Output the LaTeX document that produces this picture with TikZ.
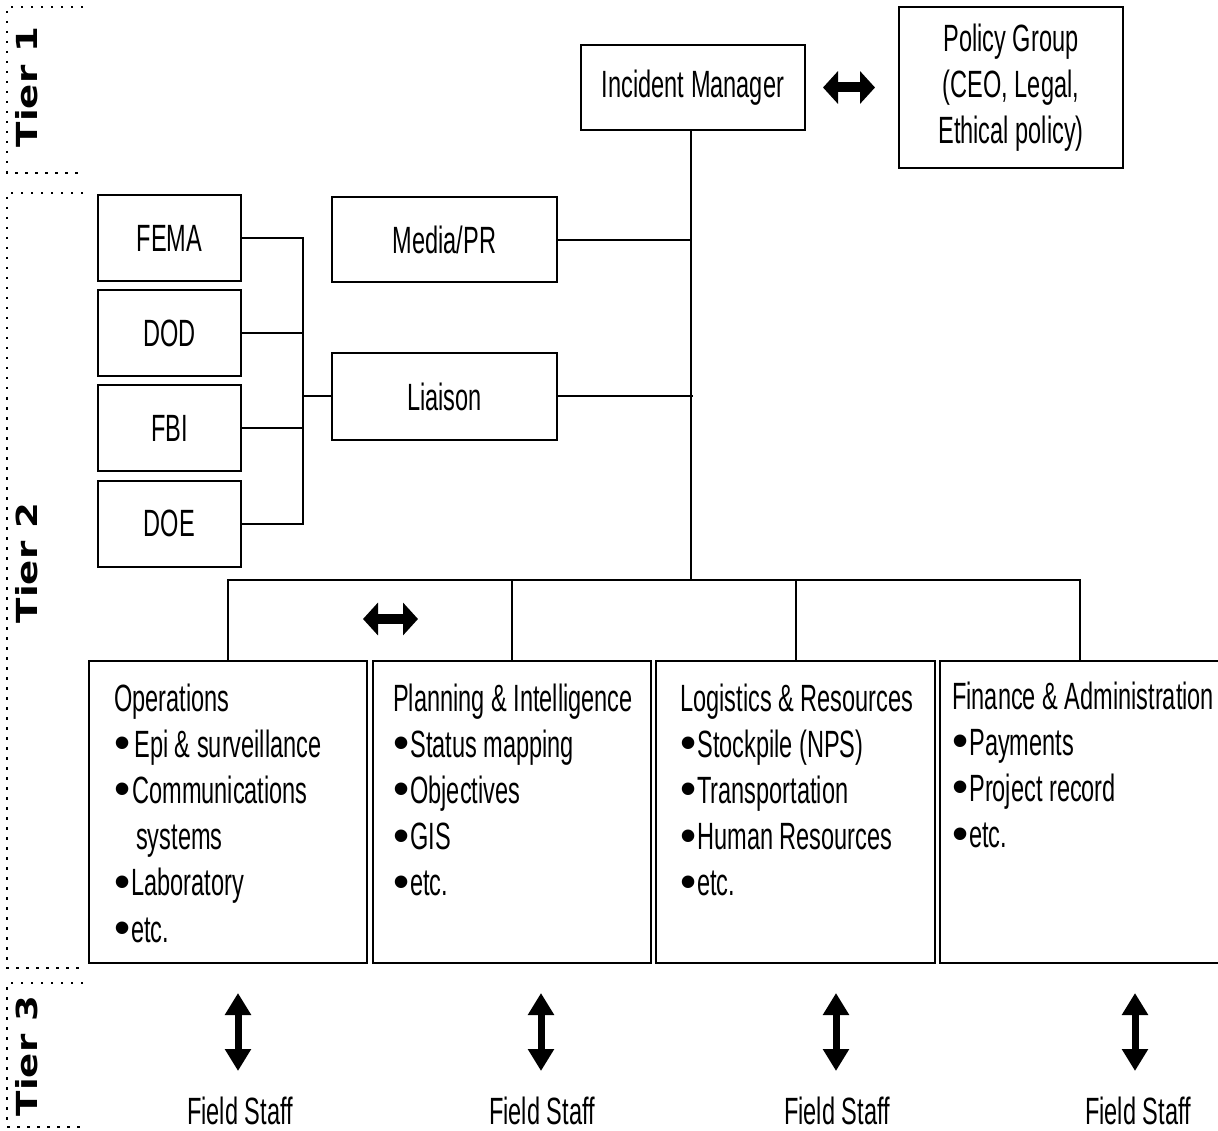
\documentclass[tikz,border=0pt]{standalone}
\usepackage{fontspec}
\setmainfont{Liberation Sans}[FakeStretch=0.62]
\newfontfamily\tierfont{DejaVu Sans}[FakeStretch=1.28]
\newfontfamily\bulfont{Liberation Sans}
\usetikzlibrary{arrows.meta}
\newcommand\bul{\raisebox{-1.5pt}{\bulfont\fontsize{46}{46}\selectfont •}\hspace{1pt}}
\newcommand\textlines[4]{\foreach \txt [count=\i] in {#4} {\node[linetext] (#1\i) at (#2,{#3+46.2*(\i-1)}) {\txt};}}
\begin{document}
\begin{tikzpicture}[x=1pt,y=-1pt,
  txt/.style={font=\fontsize{38}{46}\selectfont, inner sep=0pt},
  box/.style={draw, line width=2pt, inner sep=0pt, align=center, font=\fontsize{38}{46}\selectfont},
  conn/.style={line width=2pt},
  tierdots/.style={line width=2.5pt, dash pattern=on 2.5pt off 7.5pt},
  harrow/.style={line width=10pt, {Triangle[width=32pt,length=15pt]}-{Triangle[width=32pt,length=15pt]}},
  varrow/.style={line width=7pt, {Triangle[width=25pt,length=22pt]}-{Triangle[width=25pt,length=22pt]}},
  tier/.style={rotate=90, font=\tierfont\bfseries\fontsize{29}{29}\selectfont, inner sep=0pt},
  linetext/.style={txt, anchor=base west}]

\useasboundingbox (0,0) rectangle (1218,1131);

% tier brackets
\draw[tierdots] (83,7) -- (7,7) -- (7,173) -- (83,173);
\draw[tierdots] (83,193) -- (7,193) -- (7,968) -- (83,968);
\draw[tierdots] (83,983) -- (7,983) -- (7,1127) -- (83,1127);
\node[tier] (t1) at (27,87) {Tier 1};
\node[tier] (t2) at (27,563) {Tier 2};
\node[tier] (t3) at (27,1056) {Tier 3};

% tier 1
\node[box, minimum width=224pt, minimum height=85pt] (im) at (693,87.5) {Incident Manager};
\node[box, minimum width=224pt, minimum height=161pt] (policy) at (1011,87.5) {Policy Group\\(CEO, Legal,\\Ethical policy)};
\draw[harrow] ([xshift=17pt]im.east) -- ([xshift=-23pt]policy.west);

% tier 2 upper
\node[box, minimum width=143pt, minimum height=86pt] (fema) at (169.5,238.5) {FEMA};
\node[box, minimum width=143pt, minimum height=86pt] (dod) at (169.5,333.5) {DOD};
\node[box, minimum width=143pt, minimum height=86pt] (fbi) at (169.5,428) {FBI};
\node[box, minimum width=143pt, minimum height=86pt] (doe) at (169.5,523.5) {DOE};
\node[box, minimum width=225pt, minimum height=85pt] (media) at (444.5,240) {Media/PR};
\node[box, minimum width=225pt, minimum height=87pt] (liaison) at (444.5,396.5) {Liaison};

\coordinate (agbus) at (303,0);
\draw[conn] (fema.east) -- (fema.east -| agbus) -- (doe.east -| agbus) -- (doe.east);
\draw[conn] (dod.east) -- (dod.east -| agbus);
\draw[conn] (fbi.east) -- (fbi.east -| agbus);
\draw[conn] (liaison.west -| agbus) -- (liaison.west);

\coordinate (bus) at (691,580);
\draw[conn] (im.south -| bus) -- (bus);
\draw[conn] (media.east) -- (media.east -| bus);
\draw[conn] (liaison.east) -- ([xshift=2pt]liaison.east -| bus);

% tier 2 sections
\node[box, minimum width=278pt, minimum height=302pt] (ops) at (228,812) {};
\node[box, minimum width=278pt, minimum height=302pt] (plan) at (512,812) {};
\node[box, minimum width=279pt, minimum height=302pt] (logi) at (795.5,812) {};
\node[box, minimum width=280pt, minimum height=302pt] (fin) at (1080,812) {};

\draw[conn] (ops.north) -- (ops.north |- bus) -- (fin.north |- bus) -- (fin.north);
\draw[conn] (plan.north) -- (plan.north |- bus);
\draw[conn] (logi.north) -- (logi.north |- bus);

\coordinate (h2a) at (363,619);
\coordinate (h2b) at (418,619);
\draw[harrow] (h2a) -- (h2b);

\textlines{op}{114}{711}{Operations, \bul\hspace{3pt}Epi \& surveillance, \bul\hspace{1pt}Communications, \hspace{22pt}systems, \bul Laboratory, \bul etc.}
\textlines{pl}{393}{711}{Planning \& Intelligence, \bul Status mapping, \bul Objectives, \bul GIS, \bul etc.}
\textlines{lo}{680}{711}{Logistics \& Resources, \bul Stockpile (NPS), \bul Transportation, \bul Human Resources, \bul etc.}
\textlines{fi}{952}{709}{Finance \& Administration, \bul Payments, \bul Project record, \bul etc.}

% tier 3
\node[txt] (fs1) at (240,1111) {Field Staff};
\node[txt] (fs2) at (542,1111) {Field Staff};
\node[txt] (fs3) at (837,1111) {Field Staff};
\node[txt] (fs4) at (1138,1111) {Field Staff};
\coordinate (v1t) at (238,993);  \coordinate (v1b) at (238,1071);
\coordinate (v2t) at (541,993);  \coordinate (v2b) at (541,1071);
\coordinate (v3t) at (836,993);  \coordinate (v3b) at (836,1071);
\coordinate (v4t) at (1135,993); \coordinate (v4b) at (1135,1071);
\draw[varrow] (v1t) -- (v1b);
\draw[varrow] (v2t) -- (v2b);
\draw[varrow] (v3t) -- (v3b);
\draw[varrow] (v4t) -- (v4b);
\end{tikzpicture}
\end{document}
